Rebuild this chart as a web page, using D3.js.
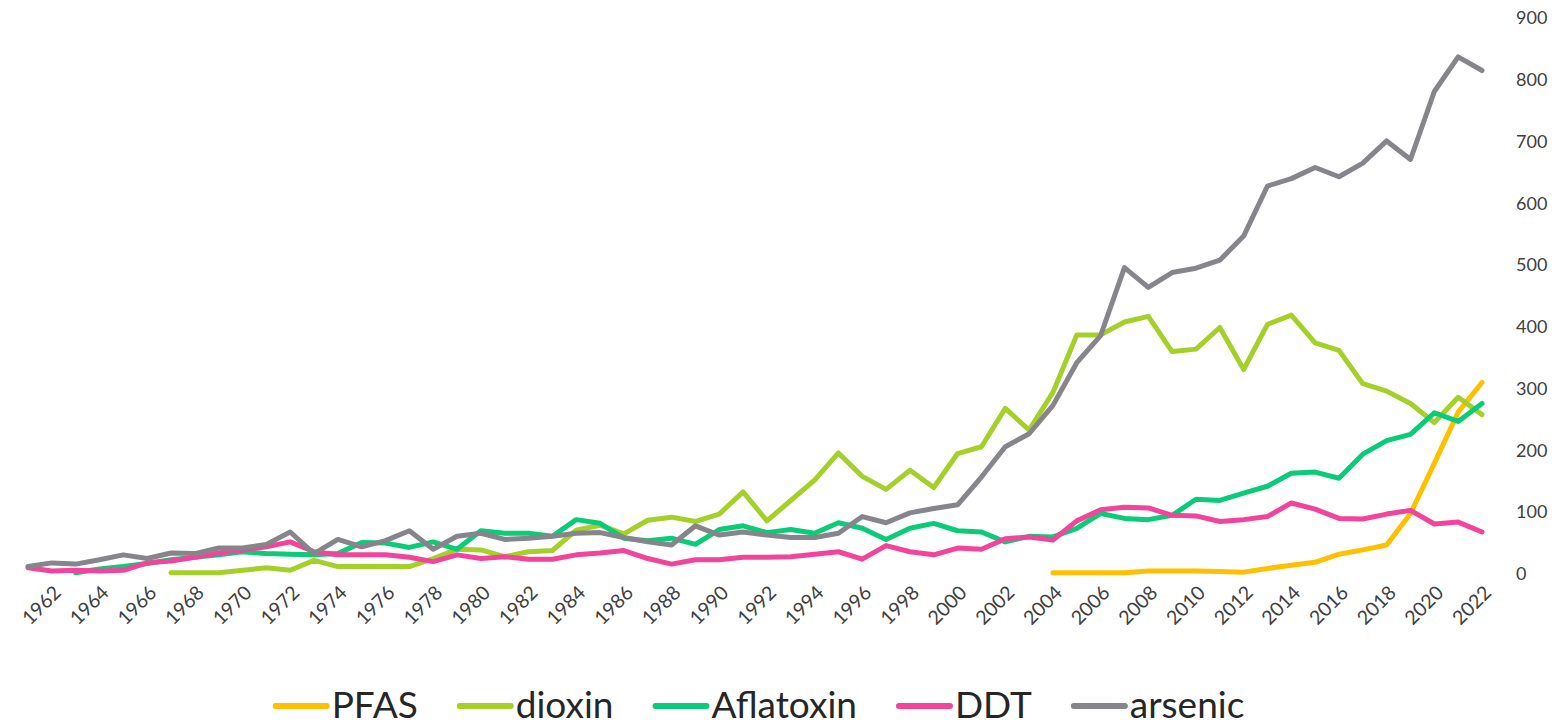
<!DOCTYPE html>
<html>
<head>
<meta charset="utf-8">
<script src="https://cdn.jsdelivr.net/npm/d3@7"></script>
<style>
  body { margin: 0; background: #fff; }
  svg { display: block; }
</style>
</head>
<body>
<div id="chart"></div>
<script>
// years 1961 .. 2022, one value per year (null = no data)
var years = d3.range(1961, 2023);
var yTicks = [0, 100, 200, 300, 400, 500, 600, 700, 800, 900];
var seriesNames = ["PFAS", "dioxin", "Aflatoxin", "DDT", "arsenic"];

var pfas = [null, null, null, null, null, null, null, null, null, null,
  null, null, null, null, null, null, null, null, null, null,
  null, null, null, null, null, null, null, null, null, null,
  null, null, null, null, null, null, null, null, null, null,
  null, null, null, 2, 2, 2, 2, 5, 5, 5,
  4, 3, 9, 14, 19, 32, 39, 47, 98, 179,
  262, 310];

var dioxin = [null, null, null, null, null, null, 2, 2, 2, 6,
  10, 6, 22, 12, 12, 12, 12, 25, 40, 39,
  28, 36, 38, 71, 79, 65, 87, 92, 85, 97,
  133, 86, 119, 152, 196, 158, 137, 168, 140, 195,
  206, 268, 233, 294, 387, 387, 408, 417, 360, 364,
  399, 331, 404, 419, 374, 362, 308, 296, 276, 245,
  286, 258];

var aflatoxin = [null, null, 2, 8, 12, 17, 23, 27, 31, 36,
  33, 32, 31, 33, 51, 50, 43, 52, 40, 70,
  66, 66, 61, 88, 82, 58, 54, 58, 48, 72,
  78, 67, 72, 66, 83, 74, 56, 74, 82, 70,
  68, 52, 61, 60, 74, 98, 90, 88, 95, 121,
  119, 131, 142, 163, 165, 155, 194, 216, 226, 261,
  247, 276];

var ddt = [10, 5, 6, 5, 6, 18, 21, 27, 34, 39,
  44, 52, 36, 31, 31, 31, 27, 20, 31, 25,
  28, 24, 24, 31, 34, 38, 25, 16, 23, 23,
  27, 27, 28, 32, 36, 24, 46, 36, 31, 42,
  40, 57, 60, 55, 86, 104, 108, 107, 95, 94,
  85, 88, 93, 115, 105, 90, 89, 97, 103, 81,
  84, 68];

var arsenic = [12, 18, 16, 23, 31, 25, 34, 33, 42, 42,
  48, 68, 33, 56, 44, 54, 70, 40, 61, 66,
  56, 58, 61, 66, 67, 59, 52, 47, 78, 63,
  68, 63, 59, 59, 66, 93, 83, 99, 106, 112,
  157, 206, 227, 273, 342, 386, 496, 464, 488, 495,
  508, 547, 628, 640, 658, 643, 665, 701, 671, 781,
  837, 815];

var seriesValues = [pfas, dioxin, aflatoxin, ddt, arsenic];
var colors = ["#ffc000", "#a5d02a", "#0acb78", "#f2449a", "#86858b"];

var W = 1568, H = 728;
var svg = d3.select("#chart").append("svg")
    .attr("width", W)
    .attr("height", H);

var x = d3.scalePoint()
    .domain(years)
    .range([28, 1482]);

var y = d3.scaleLinear()
    .domain([0, 900])
    .range([574, 18]);

// y axis on the right, labels only
var yAxis = svg.append("g")
    .attr("transform", "translate(1516,0)")
    .call(d3.axisRight(y).tickValues(yTicks).tickSize(0).tickPadding(0));
yAxis.select(".domain").remove();
yAxis.selectAll("text")
    .attr("font-family", "Lato, 'Open Sans', sans-serif")
    .attr("font-size", "18px")
    .attr("fill", "#404040")
    .attr("text-anchor", "start");

// x axis labels, every other year, rotated
var xAxis = svg.append("g")
    .attr("transform", "translate(0,574)")
    .call(d3.axisBottom(x).tickValues(years.filter(function(d) { return d % 2 == 0; })).tickSize(0));
xAxis.select(".domain").remove();
xAxis.selectAll("text")
    .attr("font-family", "Lato, 'Open Sans', sans-serif")
    .attr("font-size", "19.5px")
    .attr("fill", "#404040")
    .attr("text-anchor", "end")
    .attr("dy", null)
    .attr("y", 0)
    .attr("transform", "translate(10,20) rotate(-45)");

var line = d3.line()
    .defined(function(d) { return d != null; })
    .x(function(d, i) { return x(years[i]); })
    .y(function(d) { return y(d); });

seriesValues.forEach(function(vals, k) {
  svg.append("path")
      .attr("d", line(vals))
      .attr("fill", "none")
      .attr("stroke", colors[k])
      .attr("stroke-width", 5)
      .attr("stroke-linejoin", "round")
      .attr("stroke-linecap", "round");
});

// legend
var legend = svg.append("g");
var lx = 0;
seriesNames.forEach(function(name, k) {
  var g = legend.append("g").attr("transform", "translate(" + lx + ",0)");
  g.append("line")
      .attr("x1", 2).attr("x2", 53)
      .attr("y1", 0).attr("y2", 0)
      .attr("stroke", colors[k])
      .attr("stroke-width", 6)
      .attr("stroke-linecap", "round");
  var t = g.append("text")
      .attr("x", 58)
      .attr("y", 12)
      .attr("font-family", "Lato, 'Open Sans', sans-serif")
      .attr("font-size", "37px")
      .attr("fill", "#262626")
      .text(name);
  lx += 58 + t.node().getComputedTextLength() + 40;
});
lx -= 40;
legend.attr("transform", "translate(" + (759 - lx / 2) + ",706)");
</script>
</body>
</html>
